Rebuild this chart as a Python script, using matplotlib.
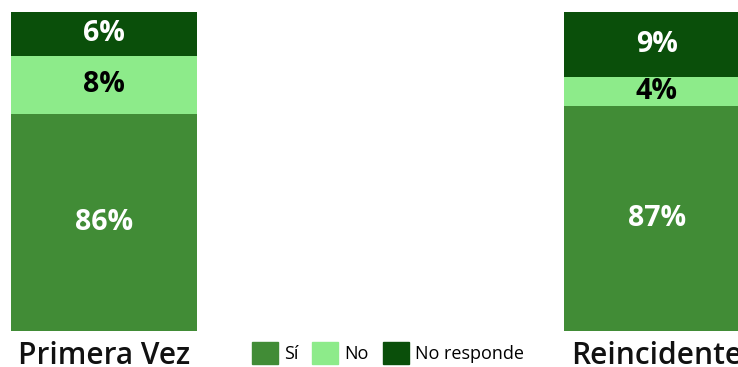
import matplotlib.pyplot as plt
from matplotlib.patches import Patch

plt.rcParams['font.family'] = ['Open Sans', 'DejaVu Sans']

groups = ["Primera Vez", "Reincidente"]
series = ["Sí", "No", "No responde"]
si = [86, 87]
no = [8, 4]
no_responde = [6, 9]

colors = ["#418c36", "#8deb8a", "#0a4f0a"]
text_colors = ["white", "black", "white"]

y_min = 56  # axis floor, bars start below it

fig = plt.figure(figsize=(7.38, 3.67), dpi=100)
ax = fig.add_axes([0, 36 / 367, 1, 319 / 367])

x = [0, 1]
width = 186 / 553
bottom = [0, 0]
for name, vals, c, tc in zip(series, [si, no, no_responde], colors, text_colors):
    ax.bar(x, vals, width, bottom=bottom, color=c, label=name)
    for i, v in enumerate(vals):
        lo = max(bottom[i], y_min)
        hi = bottom[i] + v
        ax.text(x[i], (lo + hi) / 2, f"{v}%", ha="center", va="center",
                color=tc, fontsize=20.5, fontweight="bold")
    bottom = [b + v for b, v in zip(bottom, vals)]

ax.set_xlim(-104 / 553, (738 - 104) / 553)
ax.set_ylim(y_min, 100)
ax.axis("off")

# group names under the bars
for i, g in enumerate(groups):
    ax.annotate(g, (x[i], y_min), xytext=(0, -33), textcoords="offset pixels",
                ha="center", va="baseline", fontsize=21.5,
                fontweight="semibold", color="#111111", annotation_clip=False)

handles = [Patch(color=c) for c in colors]
fig.legend(handles, series, loc="center", bbox_to_anchor=(388 / 738, 1 - 353 / 367),
           ncol=3, frameon=False, fontsize=13, handlelength=1.45,
           handleheight=1.45, handletextpad=0.35, columnspacing=0.75,
           borderpad=0, borderaxespad=0)

fig.savefig("out.png", dpi=100)
